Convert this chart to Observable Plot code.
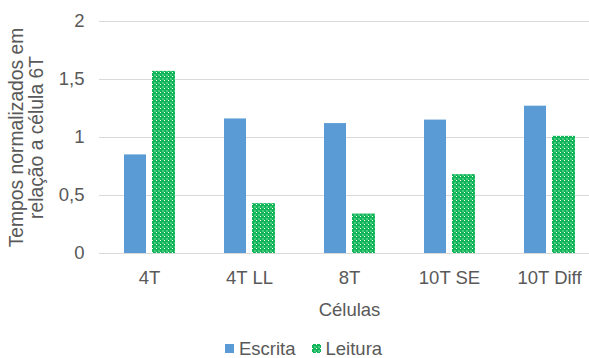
<!DOCTYPE html>
<html>
<head>
<meta charset="utf-8">
<script src="https://cdn.jsdelivr.net/npm/d3@7"></script>
<script src="https://cdn.jsdelivr.net/npm/@observablehq/plot@0.6"></script>
<style>
  body { margin: 0; background: #fff; font-family: "Liberation Sans", Arial, sans-serif; }
  #legend { margin-top: 16px; height: 15px; line-height: 15px; display: flex; align-items: center;
            padding-left: 225px; font-size: 18.5px; color: #595959; }
  .item { display: flex; align-items: center; margin-right: 16px; height: 15px; }
  .item svg { margin-right: 5px; }
  .item span { display: inline-block; height: 15px; line-height: 15px; }
  g[aria-label="y-axis label"] text { font-size: 19.3px; }
</style>
</head>
<body>
<div id="chart"></div>
<div id="legend"></div>
<script>
// Normalised times per cell type
const categories = ["4T", "4T LL", "8T", "10T SE", "10T Diff"];
const escrita = [0.85, 1.16, 1.12, 1.15, 1.27];
const leitura = [1.57, 0.43, 0.34, 0.68, 1.01];
const yTicks = [0, 0.5, 1, 1.5, 2];
const seriesNames = ["Escrita", "Leitura"];
const seriesColors = ["#5b9bd5", "#00b050"];

const rows = categories.map((c, i) => ({cell: c, escrita: escrita[i], leitura: leitura[i]}));
const font = '"Liberation Sans", Arial, sans-serif';

const chart = Plot.plot({
  width: 589,
  height: 325,
  marginLeft: 99,
  marginRight: -10,
  marginTop: 21,
  marginBottom: 72,
  style: {fontFamily: font, fontSize: "18.5px", color: "#595959", background: "#fff", overflow: "hidden", display: "block"},
  x: {domain: categories, padding: 0},
  y: {domain: [0, 2]},
  marks: [
    Plot.gridY(yTicks, {stroke: "#d9d9d9", strokeOpacity: 1, strokeWidth: 1}),
    Plot.barY(rows, {x: "cell", y: "escrita", fill: seriesColors[0], insetLeft: 25, insetRight: 53}),
    Plot.barY(rows, {x: "cell", y: "leitura", fill: "url(#leitura-dots)", insetLeft: 53, insetRight: 24}),
    Plot.axisX({tickSize: 0, tickPadding: 17, label: "Células", labelAnchor: "center",
                labelOffset: 62, labelArrow: "none"}),
    Plot.axisY(yTicks, {tickSize: 0, tickPadding: 15,
                tickFormat: d => String(d).replace(".", ","),
                label: "Tempos normalizados em\nrelação a célula 6T", labelAnchor: "center",
                labelOffset: 90, labelArrow: "none"})
  ]
});

// Dotted fill for the "Leitura" series
const defs = d3.create("svg:defs");
const pat = defs.append("pattern").attr("id", "leitura-dots")
  .attr("patternUnits", "userSpaceOnUse").attr("width", 4).attr("height", 4);
pat.append("rect").attr("width", 4).attr("height", 4).attr("fill", "#10b558");
pat.append("rect").attr("x", 2).attr("y", 2).attr("width", 2).attr("height", 2).attr("fill", "#48c882");
pat.append("rect").attr("x", 0).attr("y", 0).attr("width", 1).attr("height", 1).attr("fill", "#ffffff");
chart.insertBefore(defs.node(), chart.firstChild);

document.getElementById("chart").appendChild(chart);

// Legend below the chart
const legend = d3.select("#legend");
seriesNames.forEach((name, i) => {
  const item = legend.append("div").attr("class", "item");
  const sw = item.append("svg").attr("width", 9).attr("height", 9);
  sw.append("rect").attr("width", 9).attr("height", 9)
    .attr("fill", i === 1 ? "url(#leitura-dots)" : seriesColors[i]);
  item.append("span").text(name);
});
</script>
</body>
</html>
